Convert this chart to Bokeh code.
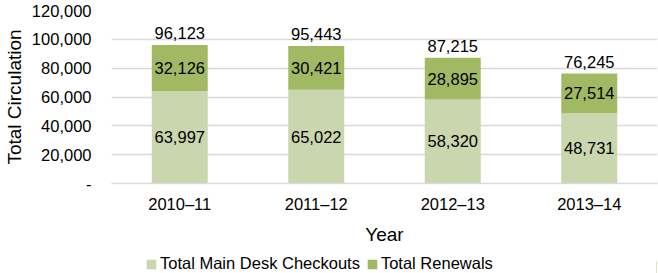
from bokeh.plotting import figure
from bokeh.layouts import column
from bokeh.models import (ColumnDataSource, LabelSet, Legend, LegendItem,
                          NumeralTickFormatter, FixedTicker)
from bokeh.core.properties import value
from bokeh.embed import file_html
from bokeh.resources import INLINE

years = ["2010\u201311", "2011\u201312", "2012\u201313", "2013\u201314"]
checkouts = [63997, 65022, 58320, 48731]
renewals = [32126, 30421, 28895, 27514]
y_ticks = [0, 20000, 40000, 60000, 80000, 100000, 120000]
series_names = ["Total Main Desk Checkouts", "Total Renewals"]

FONT = "Liberation Sans"
LIGHT = "#c9d6ae"
DARK = "#a2b964"

totals = [c + r for c, r in zip(checkouts, renewals)]
src = ColumnDataSource(dict(
    year=years,
    checkouts=checkouts,
    renewals=renewals,
    total=totals,
    mid1=[c / 2 for c in checkouts],
    mid2=[c + r / 2 for c, r in zip(checkouts, renewals)],
    lab1=[f"{c:,}" for c in checkouts],
    lab2=[f"{r:,}" for r in renewals],
    labt=[f"{t:,}" for t in totals],
))

p = figure(x_range=years, y_range=(0, 120000), frame_width=546, frame_height=173,
           output_backend="svg", toolbar_location=None,
           min_border_left=110, min_border_right=2, min_border_top=10,
           min_border_bottom=62)

p.vbar_stack(["checkouts", "renewals"], x="year", width=0.41,
             color=[LIGHT, DARK], source=src, line_color=None)

for ycol, tcol, off in [("mid1", "lab1", 0), ("mid2", "lab2", 0), ("total", "labt", 12)]:
    p.add_layout(LabelSet(x="year", y=ycol, text=tcol, source=src,
                          text_align="center", text_baseline="middle",
                          y_offset=off, text_font=value(FONT),
                          text_font_size="16.5px", text_color="black"))

p.yaxis.ticker = FixedTicker(ticks=y_ticks)
p.yaxis.formatter = NumeralTickFormatter(format="0,0")
p.yaxis.major_label_overrides = {0: "-"}
p.yaxis.axis_label = "Total Circulation"
p.xaxis.axis_label = "Year"
for ax in (p.xaxis, p.yaxis):
    ax.major_tick_line_color = None
    ax.minor_tick_line_color = None
    ax.major_label_text_font = FONT
    ax.major_label_text_font_size = "16.5px"
    ax.axis_label_text_font = FONT
    ax.axis_label_text_font_size = "19px"
    ax.axis_label_text_font_style = "normal"
    ax.major_label_text_color = "black"
    ax.axis_label_text_color = "black"
p.yaxis.axis_line_color = None
p.yaxis.major_label_standoff = 14
p.yaxis.axis_label_standoff = 4
p.xaxis.axis_line_color = "#d9d9d9"
p.xaxis.axis_line_width = 1.5
p.xaxis.major_label_standoff = 5
p.xaxis.axis_label_standoff = 8
p.xgrid.grid_line_color = None
p.ygrid.grid_line_color = "#d9d9d9"
p.ygrid.grid_line_width = 1.5
p.outline_line_color = None
p.x_range.range_padding = 0

# legend strip below the chart (its frame is aligned with the chart's frame)
leg = figure(width=658, height=28, output_backend="svg", toolbar_location=None,
             x_axis_type=None, y_axis_type=None, min_border=0,
             x_range=(0, 1), y_range=(0, 1))
leg.outline_line_color = None
leg.xgrid.visible = False
leg.ygrid.visible = False
offscreen = ColumnDataSource(dict(x=[5], top=[0.5]))
rends = [leg.vbar(x="x", top="top", width=0.1, source=offscreen,
                  fill_color=c, line_color=None)
         for c in (LIGHT, DARK)]
legend = Legend(items=[LegendItem(label=n, renderers=[rr]) for n, rr in zip(series_names, rends)],
                orientation="horizontal", location=(34, 2),
                label_text_font=FONT, label_text_font_size="16.5px",
                label_text_color="black", label_height=14,
                glyph_width=12, glyph_height=12, spacing=6, label_standoff=3,
                padding=0, margin=0, border_line_color=None,
                background_fill_alpha=0)
leg.add_layout(legend, "center")

layout = column(p, leg, spacing=0)
open("out.html", "w").write(file_html(layout, INLINE))
